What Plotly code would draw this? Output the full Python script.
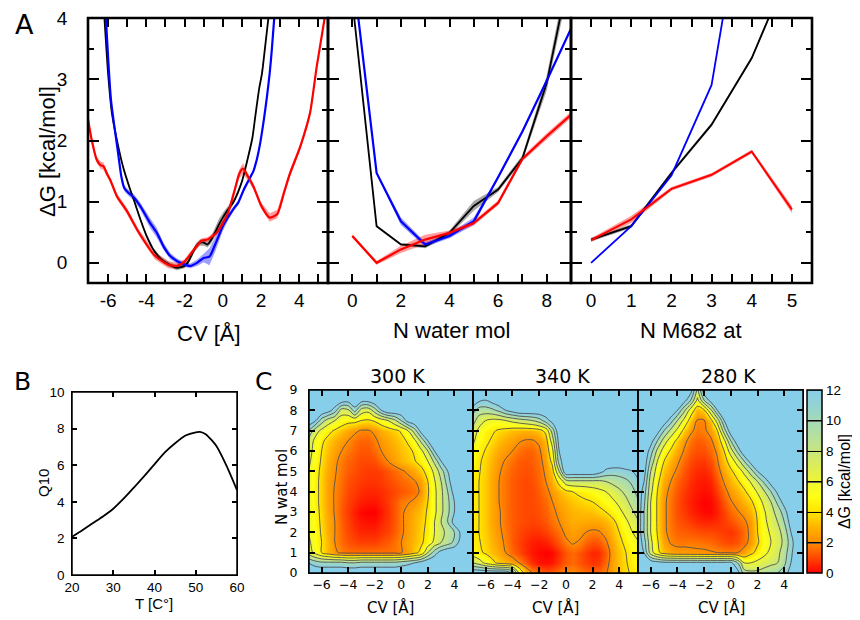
import plotly.graph_objects as go

# page body has an 8 px margin: the figure is placed at (8, 8) in the 860x620 window
OFF = 8
W, H = 860 - OFF, 620 - OFF
EMPTY = 14
NB = "\u00a0"

# ---------------- Panel A data ----------------
CV_BLACK_X = [-6.2, -6.0, -5.8, -5.5, -5.2, -4.9, -4.6, -4.3, -4.0, -3.6, -3.2, -2.8, -2.4, -2.0, -1.8, -1.6, -1.4, -1.2, -1.0, -0.8,
              -0.6, -0.4, -0.2, 0.0, 0.2, 0.6, 1.0, 1.3, 1.55, 1.7, 1.9, 2.05, 2.2, 2.4]
CV_BLACK_Y = [4.05, 3.1, 2.45, 1.95, 1.55, 1.25, 0.98, 0.7, 0.45, 0.2, 0.05, -0.03, -0.08, -0.05, 0.02, 0.15, 0.27, 0.33, 0.33, 0.30,
              0.38, 0.5, 0.63, 0.74, 0.84, 1.02, 1.33, 1.7, 2.05, 2.4, 2.85, 3.1, 3.5, 4.05]
CV_BLACK_E = [0.03, 0.03, 0.03, 0.03, 0.03, 0.03, 0.03, 0.03, 0.03, 0.03, 0.04, 0.04, 0.04, 0.04, 0.04, 0.05, 0.05, 0.05, 0.05, 0.05,
              0.06, 0.08, 0.09, 0.08, 0.06, 0.04, 0.03, 0.03, 0.03, 0.03, 0.03, 0.03, 0.03, 0.03]

CV_BLUE_X = [-6.12, -5.85, -5.5, -5.3, -5.15, -4.95, -4.65, -4.3, -3.8, -3.45, -3.1, -2.75, -2.4, -2.0, -1.7, -1.35, -1.0, -0.7,
             -0.4, 0.0, 0.3, 0.6, 0.8, 1.1, 1.4, 1.6, 1.8, 1.95, 2.15, 2.3, 2.45, 2.56, 2.7]
CV_BLUE_Y = [4.05, 2.67, 1.85, 1.4, 1.22, 1.15, 1.07, 0.92, 0.65, 0.49, 0.27, 0.11, 0.03, -0.03, -0.05, 0.0, 0.08, 0.1,
             0.3, 0.6, 0.76, 0.9, 0.98, 1.2, 1.38, 1.5, 1.72, 1.95, 2.35, 2.7, 3.1, 3.48, 4.05]
CV_BLUE_E = [0.03, 0.03, 0.04, 0.05, 0.05, 0.05, 0.05, 0.06, 0.08, 0.08, 0.06, 0.05, 0.04, 0.04, 0.04, 0.05, 0.07, 0.14,
             0.12, 0.08, 0.05, 0.04, 0.04, 0.04, 0.04, 0.03, 0.03, 0.03, 0.03, 0.03, 0.03, 0.03, 0.03]

CV_RED_X = [-7.05, -6.85, -6.6, -6.4, -6.24, -6.05, -5.89, -5.54, -5.02, -4.4, -3.56, -2.86, -2.4, -2.0, -1.5, -1.12, -0.8,
            -0.3, 0.25, 0.63, 0.85, 1.05, 1.3, 1.6, 2.0, 2.45, 2.85, 3.2, 3.5, 4.05, 4.56, 4.91, 5.35]
CV_RED_Y = [2.35, 2.0, 1.69, 1.6, 1.58, 1.45, 1.36, 1.09, 0.85, 0.5, 0.12, -0.03, -0.05, 0.02, 0.22, 0.36, 0.38,
            0.5, 0.8, 1.2, 1.45, 1.54, 1.42, 1.25, 0.94, 0.74, 0.8, 1.15, 1.45, 1.9, 2.45, 3.21, 4.05]
CV_RED_E = [0.05, 0.05, 0.05, 0.06, 0.06, 0.05, 0.05, 0.05, 0.05, 0.05, 0.06, 0.06, 0.05, 0.04, 0.04, 0.04, 0.04,
            0.04, 0.04, 0.05, 0.07, 0.09, 0.07, 0.05, 0.05, 0.07, 0.07, 0.06, 0.06, 0.05, 0.05, 0.04, 0.04]

NW_X = [0, 1, 2, 3, 4, 5, 6, 7, 8, 9]
NW_BLACK = [4.3, 0.6, 0.3, 0.27, 0.49, 0.93, 1.2, 1.71, 2.94, 4.87]
NW_BLACK_E = [0.02, 0.02, 0.02, 0.03, 0.04, 0.08, 0.04, 0.05, 0.12, 0.2]
NW_BLUE = [4.84, 1.47, 0.68, 0.3, 0.44, 0.68, 1.4, 2.15, 2.98, 3.83]
NW_BLUE_E = [0.02, 0.02, 0.06, 0.04, 0.04, 0.06, 0.03, 0.03, 0.03, 0.03]
NW_RED = [0.44, 0.0, 0.22, 0.38, 0.49, 0.65, 0.98, 1.7, 2.07, 2.42]
NW_RED_E = [0.03, 0.03, 0.06, 0.08, 0.04, 0.04, 0.04, 0.04, 0.05, 0.05]

M_X = [0, 1, 2, 3, 4, 5]
M_BLACK = [0.38, 0.6, 1.47, 2.26, 3.35, 4.9]
M_BLACK_E = [0.03, 0.03, 0.03, 0.03, 0.03, 0.03]
M_BLUE_X = [0, 1, 2, 3, 4]
M_BLUE = [0.0, 0.6, 1.43, 2.91, 6.8]
M_RED = [0.37, 0.71, 1.21, 1.44, 1.82, 0.87]
M_RED_E = [0.03, 0.06, 0.03, 0.03, 0.03, 0.06]

# ---------------- Panel B data ----------------
T_C = [20, 22.5, 25, 27.5, 30, 32.5, 35, 37.5, 40, 42.5, 45, 47.5, 50, 51, 52.5, 55, 57.5, 60]
Q10 = [2.09, 2.45, 2.83, 3.2, 3.62, 4.17, 4.78, 5.4, 6.05, 6.7, 7.2, 7.62, 7.8, 7.82, 7.68, 7.05, 5.95, 4.64]

# ---------------- Panel C data ----------------
CV_GRID = [-7.0, -6.5, -6.0, -5.5, -5.0, -4.5, -4.0, -3.5, -3.0, -2.5, -2.0, -1.5, -1.0, -0.5, 0.0,
           0.5, 1.0, 1.5, 2.0, 2.5, 3.0, 3.5, 4.0, 4.5, 5.0, 5.5]
NW_GRID = [0, 0.5, 1, 1.5, 2, 2.5, 3, 3.5, 4, 4.5, 5, 5.5, 6, 6.5, 7, 7.5, 8, 8.5, 9]

# rows: bottom (N=0) to top (N=9); columns from CV=-7; omitted trailing cells are empty (>12)
G300 = [
    [],
    [12, 11, 10.5, 10.5, 10.5, 10.5, 10, 10, 10.5, 10.5, 10.5, 10.5, 10.5, 10.5, 11, 11.5, 12, 13],
    [7, 5.5, 4, 3, 2.2, 1.8, 1.6, 1.6, 1.6, 1.6, 1.6, 1.6, 1.6, 1.7, 1.9, 2.5, 3.5, 4.5, 8, 11, 13],
    [6.5, 5, 4, 3, 2, 1.5, 1.2, 1.0, 0.9, 0.9, 0.9, 1.1, 1.3, 1.6, 2.0, 2.6, 3.2, 3.7, 4.8, 6.5, 8, 9, 10.5, 13],
    [6, 5, 3.8, 2.8, 2.0, 1.4, 1.0, 0.7, 0.5, 0.5, 0.5, 0.7, 0.9, 1.3, 1.8, 2.4, 3.0, 3.6, 4.5, 6, 7.5, 8.5, 10, 12.5],
    [6, 4.8, 3.7, 2.7, 2.0, 1.3, 0.9, 0.5, 0.3, 0.2, 0.2, 0.5, 0.8, 1.2, 1.8, 2.4, 3.0, 3.5, 4.3, 6, 8, 10, 13],
    [6, 4.7, 3.6, 2.6, 1.9, 1.2, 0.8, 0.4, 0.1, 0, 0, 0.3, 0.7, 1.2, 1.8, 2.3, 2.8, 3.3, 4.2, 5.5, 7.5, 9.5, 12],
    [6, 4.6, 3.5, 2.5, 1.9, 1.3, 0.9, 0.6, 0.4, 0.3, 0.3, 0.5, 0.8, 1.2, 1.7, 1.9, 2.2, 2.9, 4.0, 5.5, 7.5, 9.5, 12],
    [6, 4.6, 3.5, 2.5, 1.9, 1.4, 1.0, 0.8, 0.6, 0.5, 0.5, 0.6, 0.8, 1.0, 1.2, 1.4, 1.6, 2.2, 3.8, 5.5, 7.5, 10, 13],
    [6, 4.6, 3.5, 2.5, 2.0, 1.5, 1.1, 0.9, 0.8, 0.7, 0.7, 0.8, 1.0, 1.2, 1.4, 1.6, 1.9, 2.5, 4.0, 5.8, 8, 11],
    [6, 4.7, 3.6, 2.7, 2.1, 1.6, 1.3, 1.1, 0.9, 0.8, 0.8, 0.9, 1.2, 1.5, 1.8, 2.2, 2.8, 3.5, 4.6, 6.5, 9, 12],
    [6.5, 5, 3.8, 2.9, 2.2, 1.7, 1.4, 1.2, 1.0, 1.0, 1.1, 1.5, 2.0, 2.5, 3.0, 3.4, 3.9, 4.6, 6, 8.5, 12],
    [7, 5.2, 4, 3.2, 2.5, 2.0, 1.7, 1.4, 1.2, 1.2, 1.5, 2.0, 2.4, 2.8, 3.2, 3.6, 4.2, 5.5, 8, 12],
    [7.5, 5.5, 4.3, 3.5, 2.9, 2.4, 2.0, 1.6, 1.4, 1.4, 1.8, 2.3, 2.7, 3.1, 3.5, 4.2, 5.5, 8.5, 12],
    [10, 7, 5.5, 4.5, 3.8, 3.2, 2.7, 2.2, 1.9, 1.9, 2.2, 2.8, 3.2, 3.6, 4.2, 6, 9, 13],
    [14, 12.5, 9, 7, 6, 5, 4.5, 4.5, 4, 3.8, 4.2, 5, 6, 7.5, 10, 13],
    [14, 14, 14, 13, 11, 7, 7.5, 11, 7, 6.5, 9, 12],
    [14, 14, 14, 14, 14, 13.5, 13, 14, 13, 13],
    [],
]
G340 = [
    [14, 14, 14, 14, 14, 14, 12, 6, 3, 2, 1.5, 1.2, 1.3, 1.6, 2.0, 2.0, 1.8, 1.5, 1.4, 1.5, 1.9, 2.6, 3.2, 3.8, 4.2, 4.6],
    [8, 7, 5.5, 4.5, 3.5, 3.0, 2.6, 2.0, 1.2, 0.6, 0.3, 0.2, 0.3, 0.8, 1.3, 1.5, 1.2, 0.9, 0.7, 0.8, 1.5, 2.6, 3.3, 3.9, 4.5, 5],
    [5, 4.3, 3.8, 3.2, 2.7, 2.0, 1.5, 1.0, 0.6, 0.3, 0.1, 0, 0.1, 0.6, 1.2, 1.5, 1.2, 0.8, 0.5, 0.6, 1.3, 2.5, 3.3, 4.0, 4.8, 5.5],
    [4.6, 4.1, 3.6, 3.0, 2.4, 1.8, 1.3, 0.9, 0.6, 0.4, 0.3, 0.4, 0.7, 1.2, 1.8, 2.1, 1.9, 1.4, 1.1, 1.2, 1.8, 2.8, 3.6, 4.4, 5.3, 6],
    [4.5, 4.0, 3.5, 2.8, 2.2, 1.7, 1.3, 1.0, 0.8, 0.7, 0.7, 0.9, 1.2, 1.6, 2.2, 2.5, 2.3, 2.0, 1.8, 1.9, 2.4, 3.2, 4.0, 5.0, 6, 7],
    [4.5, 4.0, 3.4, 2.7, 2.1, 1.6, 1.3, 1.1, 1.0, 0.9, 1.0, 1.2, 1.6, 2.0, 2.5, 2.8, 2.8, 2.7, 2.6, 2.7, 3.0, 3.6, 4.5, 5.6, 6.8, 8],
    [4.5, 4.0, 3.4, 2.7, 2.1, 1.6, 1.3, 1.1, 1.0, 1.0, 1.1, 1.4, 1.8, 2.2, 2.7, 3.0, 3.1, 3.2, 3.3, 3.6, 4.0, 4.6, 5.5, 6.6, 7.8, 9],
    [4.5, 4.0, 3.4, 2.7, 2.0, 1.6, 1.3, 1.1, 1.0, 1.0, 1.2, 1.5, 2.0, 2.6, 3.0, 3.4, 3.6, 3.8, 4.0, 4.4, 5.0, 5.6, 6.5, 7.5, 8.8, 10],
    [4.5, 4.0, 3.4, 2.7, 2.0, 1.6, 1.3, 1.1, 1.0, 1.0, 1.3, 1.7, 2.3, 3.0, 3.6, 4.0, 4.3, 4.6, 5.0, 5.5, 6.0, 6.8, 7.6, 8.5, 9.5, 11],
    [4.6, 4.0, 3.4, 2.7, 2.0, 1.6, 1.3, 1.1, 1.0, 1.1, 1.4, 2.0, 2.8, 4.5, 7, 7.5, 7.5, 7.5, 7.5, 7.5, 8, 8.5, 9, 9.5, 10.5, 12],
    [4.8, 4.1, 3.5, 2.8, 2.1, 1.7, 1.4, 1.2, 1.1, 1.2, 1.5, 2.2, 3.4, 8, 14, 14, 14, 14, 14, 13, 11.5, 11, 11, 11.5, 12, 13],
    [5, 4.2, 3.6, 3.0, 2.3, 1.9, 1.6, 1.3, 1.2, 1.3, 1.6, 2.5, 4.5, 11],
    [5.5, 4.5, 3.9, 3.3, 2.7, 2.3, 2.0, 1.6, 1.4, 1.4, 1.8, 2.8, 5.5, 12],
    [6.5, 5, 4.3, 3.8, 3.2, 2.8, 2.5, 2.1, 1.9, 1.9, 2.2, 3.2, 7, 13],
    [7.5, 5.5, 4.6, 4.2, 3.8, 3.5, 3.2, 3.0, 2.9, 3.0, 3.3, 4.5, 9],
    [9, 7, 6, 5.5, 5.5, 6, 6.5, 7, 7.5, 8, 9, 11, 13],
    [11, 9, 9, 9.5, 10.5, 12, 13],
    [14, 12.5, 12, 13],
    [],
]
G280 = [
    [14, 14, 14, 14, 14, 14, 14, 14, 14, 14, 14, 14, 14, 14, 14, 13, 9, 8.5, 8.5, 9, 9.5, 10, 11, 13],
    [14, 14, 13.5, 13, 12.5, 12.5, 12.5, 12.5, 12.5, 12.5, 12.5, 12.5, 12.5, 12.5, 12.5, 10, 6, 6, 6.5, 7, 7.5, 8, 9.5, 12],
    [14, 12, 7, 4.5, 3.2, 2.6, 2.4, 2.4, 2.3, 2.2, 2.2, 2.1, 2.0, 1.9, 1.9, 2.0, 2.5, 3.6, 4.5, 5.5, 6.5, 7.5, 9, 11.5],
    [14, 11, 6.5, 4.2, 2.6, 1.9, 1.7, 1.7, 1.7, 1.7, 1.6, 1.5, 1.3, 1.1, 1.0, 1.2, 1.6, 2.4, 3.8, 5, 6, 7, 8.5, 11],
    [14, 10, 6, 3.9, 2.2, 1.7, 1.4, 1.3, 1.2, 1.1, 1.0, 1.0, 0.9, 0.8, 0.7, 1.0, 1.5, 2.3, 4.0, 5.2, 6.3, 7.3, 8.8, 12],
    [14, 10, 6, 3.8, 2.2, 1.6, 1.2, 1.0, 0.8, 0.6, 0.5, 0.5, 0.6, 0.8, 1.1, 1.5, 1.8, 2.4, 4.1, 5.5, 6.8, 8, 10, 13],
    [14, 10, 6, 3.8, 2.2, 1.6, 1.1, 0.8, 0.5, 0.3, 0.1, 0.1, 0.4, 0.9, 1.5, 1.9, 2.3, 3.0, 4.3, 5.8, 7.2, 8.8, 11],
    [14, 10.5, 6, 3.8, 2.2, 1.6, 1.1, 0.7, 0.4, 0.2, 0, 0.1, 0.5, 1.2, 1.9, 2.4, 3.0, 3.7, 5.0, 6.5, 8, 10.5, 13],
    [14, 11, 6.5, 4.0, 2.4, 1.7, 1.2, 0.8, 0.5, 0.3, 0.2, 0.3, 0.8, 1.6, 2.4, 3.0, 3.7, 4.8, 6.2, 7.8, 10, 12.5],
    [14, 12, 7, 4.4, 2.7, 2.0, 1.4, 1.0, 0.6, 0.4, 0.3, 0.5, 1.1, 2.1, 3.0, 3.8, 4.8, 6.2, 8, 10.5, 13],
    [14, 13, 8, 5, 3.3, 2.4, 1.8, 1.2, 0.8, 0.6, 0.5, 0.8, 1.5, 2.7, 3.7, 4.8, 6.5, 9, 12],
    [14, 13.5, 9.5, 6, 4, 2.9, 2.2, 1.5, 1.0, 0.8, 0.8, 1.1, 1.9, 3.3, 4.8, 7, 10, 13],
    [14, 14, 11, 7.5, 5, 3.8, 2.8, 1.9, 1.3, 1.1, 1.1, 1.5, 2.2, 4, 7, 10.5],
    [14, 14, 13, 10, 7, 5, 3.6, 2.3, 1.6, 1.3, 1.4, 1.8, 2.8, 5.5, 10, 13.5],
    [14, 14, 14, 13, 10, 7.5, 5.5, 3.5, 2.2, 1.7, 1.8, 2.4, 4, 9, 13.5],
    [14, 14, 14, 14, 13.5, 11, 8, 5.5, 3.2, 1.9, 1.9, 3.3, 7, 12],
    [14, 14, 14, 14, 14, 14, 12, 8.5, 5, 3.0, 3.6, 7.5, 12],
    [14, 14, 14, 14, 14, 14, 14, 13, 10, 5.5, 10, 13],
    [14, 14, 14, 14, 14, 14, 14, 14, 13, 7.5, 13.5],
]
TEMPS_C = ["300 K", "340 K", "280 K"]

COLORSCALE = [
    [0.0, "#ff0000"], [1 / 12, "#ff4800"], [2 / 12, "#ff8c00"], [3 / 12, "#ffb400"],
    [4 / 12, "#ffe400"], [5 / 12, "#ffff14"], [6 / 12, "#eef534"], [7 / 12, "#dcee58"],
    [8 / 12, "#c8e67e"], [9 / 12, "#b6e0a0"], [10 / 12, "#a4dab8"], [11 / 12, "#95d3d2"],
    [1.0, "#87ceeb"],
]


def pad(rows, n=len(CV_GRID)):
    return [(list(r) + [EMPTY] * n)[:n] for r in rows]


def fx(p):
    return (p - OFF) / W


def fy(p):
    return 1 - (p - OFF) / H


fig = go.Figure()


def band(x, y, e, color, xa, ya):
    hi = [a + b for a, b in zip(y, e)]
    lo = [a - b for a, b in zip(y, e)]
    fig.add_trace(go.Scatter(x=list(x) + list(x)[::-1], y=hi + lo[::-1], fill="toself",
                             fillcolor=color, line=dict(width=0), mode="lines",
                             hoverinfo="skip", xaxis=xa, yaxis=ya))


def line(x, y, color, xa, ya, width=2.2, shape="linear"):
    fig.add_trace(go.Scatter(x=x, y=y, mode="lines", line=dict(color=color, width=width, shape=shape, smoothing=0.6),
                             xaxis=xa, yaxis=ya))


BLK_F, BLU_F, RED_F = "rgba(0,0,0,0.35)", "rgba(0,0,255,0.38)", "rgba(255,0,0,0.38)"

# Panel A left
band(CV_BLACK_X, CV_BLACK_Y, CV_BLACK_E, BLK_F, "x", "y")
band(CV_BLUE_X, CV_BLUE_Y, CV_BLUE_E, BLU_F, "x", "y")
band(CV_RED_X, CV_RED_Y, CV_RED_E, RED_F, "x", "y")
line(CV_BLACK_X, CV_BLACK_Y, "black", "x", "y", 1.8, "spline")
line(CV_BLUE_X, CV_BLUE_Y, "#0000ff", "x", "y", 2.2, "spline")
line(CV_RED_X, CV_RED_Y, "#ff0000", "x", "y", 2.2, "spline")
# Panel A middle
band(NW_X, NW_BLACK, NW_BLACK_E, BLK_F, "x2", "y2")
band(NW_X, NW_BLUE, NW_BLUE_E, BLU_F, "x2", "y2")
band(NW_X, NW_RED, NW_RED_E, RED_F, "x2", "y2")
line(NW_X, NW_BLACK, "black", "x2", "y2", 1.8)
line(NW_X, NW_BLUE, "#0000ff", "x2", "y2", 2.2)
line(NW_X, NW_RED, "#ff0000", "x2", "y2", 2.2)
# Panel A right
band(M_X, M_BLACK, M_BLACK_E, BLK_F, "x3", "y3")
band(M_X, M_RED, M_RED_E, RED_F, "x3", "y3")
line(M_X, M_BLACK, "black", "x3", "y3", 1.8)
line(M_BLUE_X, M_BLUE, "#0000ff", "x3", "y3", 1.8)
line(M_X, M_RED, "#ff0000", "x3", "y3", 2.0)

# Panel B
line(T_C, Q10, "black", "x4", "y4", 1.8, "spline")

# Panel C
for i, (g, name) in enumerate(zip([G300, G340, G280], TEMPS_C)):
    n = 5 + i
    last = i == 2
    fig.add_trace(go.Contour(
        x=CV_GRID, y=NW_GRID, z=pad(g), zmin=0, zmax=12, zauto=False,
        colorscale=COLORSCALE,
        contours=dict(start=2, end=12, size=2, coloring="heatmap", showlines=True),
        line=dict(color="#505050", width=0.9, smoothing=1),
        showscale=last,
        colorbar=dict(x=fx(807), xanchor="left", xpad=0, ypad=0, y=fy(481.5), yanchor="middle",
                      len=183 / H, lenmode="fraction", thickness=15, thicknessmode="pixels",
                      outlinecolor="black", outlinewidth=1.5,
                      tickvals=[0, 2, 4, 6, 8, 10, 12], ticks="inside", ticklen=15,
                      tickcolor="black", tickwidth=1.2,
                      tickfont=dict(family="Liberation Sans", size=13.5, color="black"),
                      title=dict(text="ΔG [kcal/mol]", side="right",
                                 font=dict(family="Liberation Sans", size=16, color="black"))),
        xaxis=f"x{n}", yaxis=f"y{n}", hoverinfo="skip"))

# ---------------- Axes ----------------
A_FONT = dict(family="Liberation Sans", size=19, color="black")
A_COMMON = dict(showline=True, linecolor="black", linewidth=1, mirror="ticks", ticks="inside",
                tickcolor="black", tickwidth=2, zeroline=False, showgrid=False, ticklen=9,
                tickfont=A_FONT, layer="above traces", ticklabeloverflow="allow")
A_YDOM = [fy(283), fy(18)]
A_YRANGE = [-0.33, 4.005]
Y_MAJOR = [0, 1, 2, 3, 4]

lay = dict(
    width=W, height=H, margin=dict(l=0, r=0, t=0, b=0, autoexpand=False), showlegend=False,
    paper_bgcolor="white", plot_bgcolor="white", template="simple_white",
    font=dict(family="Liberation Sans", color="black"),
)

lay["xaxis"] = dict(A_COMMON, domain=[fx(88), fx(328)], range=[-7.05, 5.5], anchor="y",
                    tickmode="array", tickvals=[-6, -4, -2, 0, 2, 4], ticktext=["-6", "-4", "-2", "0", "2", "4"],
                    minor=dict(tickmode="linear", tick0=0, dtick=1, ticks="inside", ticklen=9, tickwidth=2, tickcolor="black"))
lay["xaxis2"] = dict(A_COMMON, domain=[fx(328), fx(571)], range=[-1, 9], anchor="y2",
                     tickmode="array", tickvals=[0, 2, 4, 6, 8],
                     minor=dict(tickmode="linear", tick0=0, dtick=1, ticks="inside", ticklen=9, tickwidth=2, tickcolor="black"))
lay["xaxis3"] = dict(A_COMMON, domain=[fx(571), fx(812)], range=[-0.5, 5.5], anchor="y3",
                     tickmode="array", tickvals=[0, 1, 2, 3, 4, 5],
                     minor=dict(tickmode="linear", tick0=0, dtick=0.5, ticks="inside", ticklen=9, tickwidth=2, tickcolor="black"))
for k, xa, show in [("yaxis", "x", True), ("yaxis2", "x2", False), ("yaxis3", "x3", False)]:
    lay[k] = dict(A_COMMON, domain=A_YDOM, range=A_YRANGE, anchor=xa, showticklabels=show,
                  tickmode="array", tickvals=Y_MAJOR, ticktext=[f"{v}{NB * 3}" for v in Y_MAJOR], ticklen=11,
                  minor=dict(tickmode="linear", tick0=0, dtick=0.5, ticks="inside", ticklen=6, tickwidth=2, tickcolor="black"))

B_COMMON = dict(showline=True, linecolor="black", linewidth=1, mirror="ticks", ticks="inside",
                tickcolor="black", tickwidth=1.5, ticklen=5, zeroline=False, showgrid=False,
                tickfont=dict(family="Liberation Sans", size=13.5, color="black"), layer="above traces",
                ticklabeloverflow="allow")
lay["xaxis4"] = dict(B_COMMON, domain=[fx(72), fx(237)], range=[20, 60], anchor="y4", dtick=10, tick0=0)
lay["yaxis4"] = dict(B_COMMON, domain=[fy(575), fy(392)], range=[0, 10], anchor="x4", dtick=2, tick0=0,
                     ticksuffix=NB)

C_COMMON = dict(showline=True, linecolor="black", linewidth=1, mirror="ticks", ticks="inside",
                tickcolor="black", tickwidth=1.5, ticklen=6, zeroline=False, showgrid=False,
                tickfont=dict(family="DejaVu Sans", size=12.5, color="black"), layer="above traces",
                ticklabeloverflow="allow")
C_XDOMS = [[fx(309), fx(473)], [fx(473), fx(638)], [fx(638), fx(803)]]
for i in range(3):
    n = 5 + i
    lay[f"xaxis{n}"] = dict(C_COMMON, domain=C_XDOMS[i], range=[-6.95, 5.4], anchor=f"y{n}",
                            tickmode="array", tickvals=[-6, -4, -2, 0, 2, 4])
    lay[f"yaxis{n}"] = dict(C_COMMON, domain=[fy(573), fy(390)], range=[0, 9], anchor=f"x{n}",
                            tickmode="linear", tick0=0, dtick=1, showticklabels=(i == 0),
                            ticksuffix=NB * 2)


def frame(n, width):
    s = "" if n == 1 else str(n)
    return dict(type="rect", xref=f"x{s} domain", yref=f"y{s} domain", x0=0, x1=1, y0=0, y1=1,
                line=dict(color="black", width=width), fillcolor="rgba(0,0,0,0)", opacity=1,
                layer="above")


lay["shapes"] = [frame(1, 2.6), frame(2, 2.6), frame(3, 2.6), frame(4, 1.5),
                 frame(5, 1.5), frame(6, 1.5), frame(7, 1.5)]


def ann(text, x, y, size, family="Liberation Sans", angle=0):
    return dict(text=text, x=fx(x), y=fy(y), xref="paper", yref="paper", showarrow=False,
                xanchor="center", yanchor="middle", textangle=angle,
                font=dict(family=family, size=size, color="black"))


lay["annotations"] = [
    ann("A", 24, 24, 27, "DejaVu Sans"),
    ann("B", 22, 381, 25, "DejaVu Sans"),
    ann("C", 263, 381, 25, "DejaVu Sans"),
    ann("ΔG [kcal/mol]", 47, 152, 22, angle=-90),
    ann("CV [Å]", 209, 333, 22),
    ann("N water mol", 451, 330, 22),
    ann("N M682 at", 691, 330, 22),
    ann("Q10", 43, 483, 15, angle=-90),
    ann("T [C°]", 154, 603, 15),
    ann("N wat mol", 282, 487, 15, "DejaVu Sans", angle=-90),
    ann(TEMPS_C[0], 397, 376, 19, "DejaVu Sans"),
    ann(TEMPS_C[1], 562, 376, 19, "DejaVu Sans"),
    ann(TEMPS_C[2], 728, 376, 19, "DejaVu Sans"),
    ann("CV [Å]", 390, 607, 15, "DejaVu Sans"),
    ann("CV [Å]", 555, 607, 15, "DejaVu Sans"),
    ann("CV [Å]", 721, 607, 15, "DejaVu Sans"),
]

fig.update_layout(**lay)
fig.write_html("out.html")
